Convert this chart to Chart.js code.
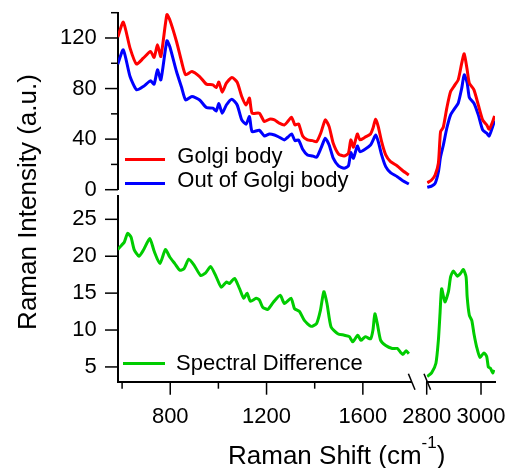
<!DOCTYPE html>
<html>
<head>
<meta charset="utf-8">
<script src="https://cdn.jsdelivr.net/npm/chart.js@4.4.1/dist/chart.umd.min.js"></script>
<style>
  html, body { margin: 0; padding: 0; background: #fff; }
  #wrap { position: relative; width: 510px; height: 468px; font-family: 'Liberation Sans', Arial, sans-serif; color: #000; }
  #wrap canvas { position: absolute; left: 0; top: 0; }
  .txt { position: absolute; white-space: nowrap; }
  .key { position: absolute; height: 3px; }
</style>
</head>
<body>
<div id="wrap">
  <canvas id="topLo" width="510" height="468"></canvas>
  <canvas id="topHi" width="510" height="468"></canvas>
  <canvas id="botLo" width="510" height="468"></canvas>
  <canvas id="botHi" width="510" height="468"></canvas>
  <div class="txt" id="yTitle" style="left:-123.4px; top:189px; width:300px; height:26px; line-height:26px; font-size:26px; text-align:center; transform:rotate(-90deg);">Raman Intensity (a.u.)</div>
  <div class="txt" style="left:228px; top:441.6px; line-height:26px; font-size:26px;">Raman Shift (cm<span style="font-size:17px; position:relative; top:-15.6px; line-height:0;">-1</span>)</div>
</div>
<script>
// Fingerprint region (cm-1) and the two spectra
const shiftLo = [582, 605, 633, 660, 688, 718, 733, 747, 761, 786, 798, 826, 847, 864, 890, 922, 950, 977, 991, 1002,
  1016, 1033, 1056, 1078, 1097, 1115, 1129, 1140, 1170, 1191, 1212, 1233, 1253, 1274, 1288, 1304, 1318, 1333, 1350, 1370,
  1391, 1408, 1426, 1444, 1460, 1477, 1499, 1522, 1540, 1550, 1561, 1577, 1588, 1609, 1632, 1642, 1653, 1664, 1678, 1695,
  1715, 1743, 1766, 1791];
const golgiLo = [120.7, 132.6, 112, 99.3, 104, 109.3, 104.6, 114.6, 105.4, 138.4, 134.4, 117.2, 101.4, 90.9, 93.5, 89.5, 83.5, 82.9, 80.8, 85.1,
  77.1, 84.3, 88.7, 85, 73.7, 67, 72.4, 60.5, 60.5, 53.9, 55.8, 55.2, 52.6, 51.2, 53.9, 57.3, 51.2, 52, 42.5, 39.4,
  38.8, 38, 45.2, 55.2, 49.9, 36.7, 28.3, 26.7, 28.8, 39.4, 33.6, 44.1, 39.4, 41.5, 44.1, 48.6, 55.8, 49.9, 38, 27.5,
  22.2, 18.8, 15, 11.6];
const outLo = [99.3, 110.6, 89.5, 79, 81.6, 86.1, 83.5, 94.8, 86.9, 117.8, 113.3, 93.5, 81, 71, 73.7, 71, 65, 64.5, 62.3, 68.1,
  60.5, 67, 71.6, 67, 55.2, 51.8, 57.8, 45.9, 47, 42.5, 44.1, 43.3, 41.5, 39.4, 41.5, 44.1, 38.8, 39.4, 32, 27.5,
  26.7, 25.7, 32.8, 40.7, 35.4, 24.9, 18.8, 17, 18.8, 29.3, 24.9, 34.6, 30.1, 32, 35.4, 39, 43.3, 38, 27.5, 18.2,
  13.5, 10.3, 7.1, 4.5];

// High-wavenumber region
const shiftHi = [2802, 2818, 2831, 2843, 2851, 2861, 2874, 2888, 2904, 2916, 2929, 2938, 2949, 2957, 2974, 2990, 3006, 3021, 3030, 3043, 3050];
const golgiHi = [5.5, 7.7, 11.6, 20.9, 45.9, 49.4, 64.5, 77.6, 82.9, 86.9, 100.1, 107.5, 94.8, 84.3, 79, 67.1, 55.2, 51.2, 47.8, 53.9, 58.4];
const outHi = [1.9, 2.9, 5, 14, 26, 35, 48.6, 59.2, 64.5, 68.4, 80.3, 90.9, 84.5, 73, 68.4, 59.2, 47.3, 44.7, 42.5, 49.9, 54.7];

// Difference spectrum
const diffShiftLo = [582, 598, 609, 623, 637, 650, 670, 688, 715, 733, 757, 780, 798, 819, 840, 857, 877, 899, 926, 946,
  968, 991, 1012, 1033, 1046, 1067, 1088, 1105, 1119, 1133, 1157, 1170, 1184, 1205, 1229, 1257, 1274, 1302, 1316, 1337,
  1357, 1385, 1408, 1424, 1438, 1451, 1468, 1496, 1523, 1544, 1558, 1579, 1592, 1610, 1632, 1642, 1650, 1661, 1674, 1695,
  1722, 1743, 1756, 1766, 1780, 1791];
const diffLo = [20.9, 21.5, 21.9, 23.1, 22.6, 20.9, 20, 20.8, 22.4, 20.7, 19, 20.9, 19.9, 19, 18.1, 18.3, 19.6, 18.8, 17.4, 17.7,
  18.6, 17.2, 15.8, 16.5, 16.3, 17, 15.6, 14.3, 15, 13.9, 14.3, 14.1, 13.1, 12.8, 13.8, 14.7, 13.6, 14.3, 12.9, 12.5,
  11.3, 10.5, 10.9, 12.7, 15.2, 13.6, 10.4, 9.5, 9.3, 9.1, 8.4, 9.3, 8.6, 9.1, 8.8, 10, 12.2, 10.7, 8.6, 7.9,
  7.5, 7.5, 7, 6.7, 7.2, 6.8];
const diffShiftHi = [2802, 2818, 2834, 2843, 2849, 2855, 2867, 2880, 2888, 2898, 2913, 2925, 2935, 2945, 2949, 2957, 2966, 2974, 2984, 2996,
  3011, 3021, 3027, 3035, 3043, 3047];
const diffHi = [3.7, 4.2, 5.5, 8.6, 12.2, 15.6, 13.8, 15.2, 17.2, 18, 17.3, 17.7, 18.2, 17.2, 14.5, 12, 11.3, 9.5, 7.7, 6.3,
  6.9, 6.4, 5, 4.8, 4.2, 4.6];

const topNames = ['Golgi body', 'Out of Golgi body'];
const topColors = ['#ff0000', '#0000ff'];
const diffName = 'Spectral Difference';
const diffColor = '#00cc00';

// tick marks and which ones carry a label
const topTicks = [0, 20, 40, 60, 80, 100, 120, 140];
const topLabeled = [0, 40, 80, 120];
const botTicks = [5, 10, 15, 20, 25];
const loTicks = [600, 800, 1000, 1200, 1400, 1600];
const loLabeled = [800, 1200, 1600];
const hiTicks = [2800, 3000];

Chart.defaults.font.family = "'Liberation Sans', Arial, sans-serif";
Chart.defaults.color = '#000';

// draws tick marks (long when labelled) and the axis break slashes
const axisMarks = {
  id: 'axisMarks',
  afterDraw(chart, args, opts) {
    const ctx = chart.ctx;
    const area = chart.chartArea;
    ctx.save();
    ctx.strokeStyle = '#000';
    ctx.lineWidth = 1.5;
    ['x', 'y'].forEach(id => {
      const s = chart.scales[id];
      if (!s || !s.options.display) return;
      s.ticks.forEach(t => {
        const len = t.label !== '' ? 13 : 7;
        const p = s.getPixelForValue(t.value);
        ctx.beginPath();
        if (id === 'x') { ctx.moveTo(p, area.bottom); ctx.lineTo(p, area.bottom + len); }
        else { ctx.moveTo(area.left - len, p); ctx.lineTo(area.left, p); }
        ctx.stroke();
      });
    });
    if (opts.cut) {
      const x0 = opts.cut === 'right' ? area.right + 0.7 : area.left + 0.6;
      ctx.beginPath();
      ctx.moveTo(x0 - 3.3, area.bottom - 8);
      ctx.lineTo(x0 + 3.3, area.bottom + 8);
      ctx.stroke();
    }
    ctx.restore();
  }
};

function shownAxis(min, max, ticks, labeled, pad, fit) {
  return {
    type: 'linear', min: min, max: max,
    grid: { display: false, drawTicks: false },
    border: { display: true, color: '#000', width: 2 },
    afterBuildTicks: s => { s.ticks = ticks.map(v => ({ value: v })); },
    afterFit: s => { fit(s); s.paddingTop = 0; s.paddingBottom = 0; s.paddingLeft = 0; s.paddingRight = 0; },
    ticks: {
      autoSkip: false, maxRotation: 0, minRotation: 0, padding: pad, color: '#000',
      font: { size: 22 },
      callback: v => labeled.includes(v) ? String(v) : ''
    }
  };
}

function hiddenAxis(min, max) {
  return { type: 'linear', min: min, max: max, display: false };
}

function pts(xs, ys) {
  return xs.map((x, i) => ({ x: x, y: ys[i] }));
}

function makeChart(id, datasets, scales, padding, cut) {
  return new Chart(document.getElementById(id), {
    type: 'line',
    data: { datasets: datasets },
    options: {
      responsive: false,
      animation: false,
      devicePixelRatio: 1,
      layout: { padding: padding, autoPadding: false },
      elements: { point: { radius: 0 }, line: { borderWidth: 3, tension: 0.2 } },
      plugins: { legend: { display: false }, tooltip: { enabled: false }, axisMarks: { cut: cut } },
      scales: scales
    },
    plugins: [axisMarks]
  });
}

const yWidth = s => { s.width = 118; };
const xHeight = s => { s.height = 50; };

makeChart('topLo', [
  { label: topNames[0], data: pts(shiftLo, golgiLo), borderColor: topColors[0] },
  { label: topNames[1], data: pts(shiftLo, outLo), borderColor: topColors[1] }
], {
  x: hiddenAxis(583, 1800),
  y: shownAxis(0, 140, topTicks, topLabeled, 21.3, yWidth)
}, { left: 0, top: 12.7, right: 99, bottom: 278.3 }, null);

makeChart('topHi', [
  { label: topNames[0], data: pts(shiftHi, golgiHi), borderColor: topColors[0] },
  { label: topNames[1], data: pts(shiftHi, outHi), borderColor: topColors[1] }
], {
  x: hiddenAxis(2800, 3051.5),
  y: hiddenAxis(0, 140)
}, { left: 426.7, top: 12.7, right: 15, bottom: 278.3 }, null);

makeChart('botLo', [
  { label: diffName, data: pts(diffShiftLo, diffLo), borderColor: diffColor }
], {
  x: shownAxis(583, 1800, loTicks, loLabeled, 22, xHeight),
  y: shownAxis(3, 28.2, botTicks, botTicks, 21.3, yWidth)
}, { left: 0, top: 195.7, right: 99, bottom: 36.3 }, 'right');

makeChart('botHi', [
  { label: diffName, data: pts(diffShiftHi, diffHi), borderColor: diffColor }
], {
  x: shownAxis(2800, 3051.5, hiTicks, hiTicks, 22, xHeight),
  y: hiddenAxis(3, 28.2)
}, { left: 426.7, top: 195.7, right: 15, bottom: 36.3 }, 'left');

// legends, built from the series names and colours
const wrap = document.getElementById('wrap');
function legendItem(name, color, keyLeft, keyWidth, keyY, textLeft, textTop) {
  const key = document.createElement('div');
  key.className = 'key';
  key.style.cssText = 'left:' + keyLeft + 'px; top:' + (keyY - 1.5) + 'px; width:' + keyWidth + 'px; background:' + color + ';';
  wrap.appendChild(key);
  const label = document.createElement('div');
  label.className = 'txt';
  label.style.cssText = 'left:' + textLeft + 'px; top:' + textTop + 'px; font-size:22px; line-height:22px;';
  label.textContent = name;
  wrap.appendChild(label);
}
legendItem(topNames[0], topColors[0], 125, 40, 159.3, 177.3, 144.7);
legendItem(topNames[1], topColors[1], 125, 40, 183.3, 177.3, 168.7);
legendItem(diffName, diffColor, 122.7, 42.3, 363.3, 176, 352.4);
</script>
</body>
</html>
